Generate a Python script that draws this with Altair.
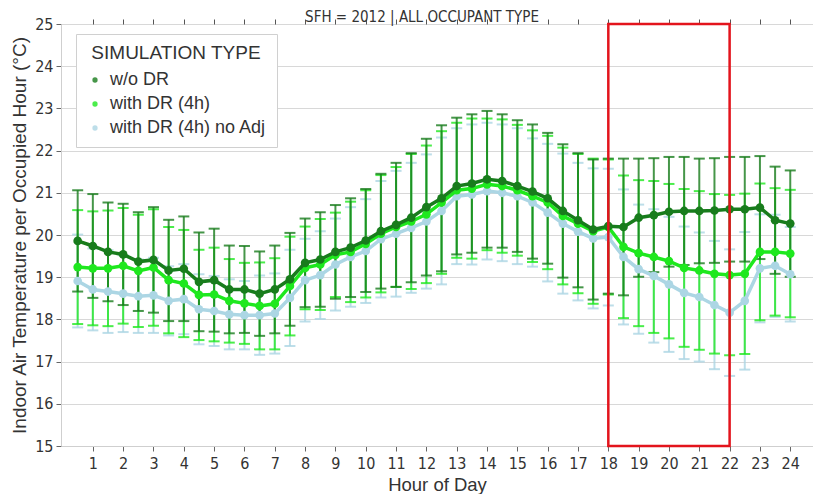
import altair as alt
import pandas as pd

hours = [0.5, 1, 1.5, 2, 2.5, 3, 3.5, 4, 4.5, 5, 5.5, 6, 6.5, 7, 7.5, 8,
         8.5, 9, 9.5, 10, 10.5, 11, 11.5, 12, 12.5, 13, 13.5, 14, 14.5, 15, 15.5, 16,
         16.5, 17, 17.5, 18, 18.5, 19, 19.5, 20, 20.5, 21, 21.5, 22, 22.5, 23, 23.5, 24]

series_names = ["w/o DR", "with DR (4h)", "with DR (4h) no Adj"]
series_colors = ["#187c1c", "#1ee81e", "#acd6e4"]

mean_wo_dr = [19.86, 19.74, 19.60, 19.54, 19.37, 19.41, 19.16, 19.20, 18.89, 18.93, 18.71, 18.71,
              18.61, 18.71, 18.95, 19.34, 19.42, 19.60, 19.70, 19.87, 20.09, 20.24, 20.41, 20.66,
              20.87, 21.16, 21.22, 21.32, 21.28, 21.16, 21.03, 20.87, 20.57, 20.35, 20.13, 20.21,
              20.19, 20.41, 20.47, 20.55, 20.57, 20.57, 20.58, 20.61, 20.61, 20.65, 20.35, 20.27]
std_wo_dr = [1.20, 1.23, 1.17, 1.20, 1.17, 1.25, 1.20, 1.24, 1.17, 1.22, 1.04, 1.03,
             1.00, 1.04, 1.10, 1.05, 1.12, 1.11, 1.17, 1.22, 1.36, 1.47, 1.53, 1.62,
             1.73, 1.62, 1.64, 1.62, 1.58, 1.56, 1.59, 1.55, 1.58, 1.59, 1.66, 1.60,
             1.62, 1.40, 1.35, 1.30, 1.28, 1.24, 1.24, 1.24, 1.24, 1.22, 1.27, 1.26]

mean_dr = [19.24, 19.21, 19.21, 19.27, 19.15, 19.23, 18.93, 18.85, 18.58, 18.59, 18.44, 18.38,
           18.32, 18.37, 18.79, 19.22, 19.30, 19.53, 19.60, 19.79, 20.03, 20.19, 20.32, 20.49,
           20.77, 21.06, 21.10, 21.20, 21.16, 21.06, 20.92, 20.77, 20.45, 20.27, 20.09, 20.19,
           19.72, 19.57, 19.48, 19.38, 19.22, 19.16, 19.08, 19.05, 19.08, 19.60, 19.60, 19.56]
std_dr = [1.35, 1.35, 1.37, 1.37, 1.33, 1.38, 1.26, 1.27, 1.07, 1.11, 0.99, 0.96,
          1.03, 1.08, 1.17, 0.98, 1.08, 1.00, 1.19, 1.27, 1.39, 1.42, 1.60, 1.63,
          1.69, 1.60, 1.66, 1.56, 1.58, 1.55, 1.56, 1.58, 1.62, 1.65, 1.72, 1.60,
          1.69, 1.73, 1.80, 1.83, 1.87, 1.88, 1.89, 1.90, 1.90, 1.62, 1.51, 1.51]

mean_noadj = [18.91, 18.71, 18.66, 18.61, 18.55, 18.57, 18.44, 18.48, 18.24, 18.20, 18.12, 18.10,
              18.10, 18.14, 18.51, 18.93, 19.05, 19.30, 19.48, 19.62, 19.90, 20.03, 20.17, 20.32,
              20.57, 20.92, 20.96, 21.04, 21.00, 20.92, 20.77, 20.53, 20.27, 20.08, 19.92, 19.95,
              19.48, 19.19, 19.03, 18.83, 18.63, 18.53, 18.34, 18.16, 18.44, 19.21, 19.27, 19.07]
std_noadj = [1.10, 0.97, 0.98, 0.91, 0.87, 0.89, 0.82, 0.83, 0.83, 0.83, 0.83, 0.81,
             0.94, 0.95, 1.14, 0.98, 1.04, 1.09, 1.18, 1.23, 1.38, 1.49, 1.54, 1.59,
             1.74, 1.61, 1.66, 1.62, 1.62, 1.61, 1.52, 1.63, 1.66, 1.63, 1.66, 1.62,
             1.60, 1.53, 1.58, 1.60, 1.57, 1.53, 1.52, 1.50, 1.63, 1.28, 1.21, 1.12]

dr_start, dr_end = 18, 22
y_min, y_max = 15, 25

rows = []
for name, means, stds in zip(series_names,
                             [mean_wo_dr, mean_dr, mean_noadj],
                             [std_wo_dr, std_dr, std_noadj]):
    for h, m, s in zip(hours, means, stds):
        rows.append({"hour": h, "series": name, "mean": m, "lo": m - s, "hi": m + s})
df = pd.DataFrame(rows)

narrow = "Liberation Sans Narrow, DejaVu Sans Condensed, Roboto Condensed, Liberation Sans, sans-serif"

xscale = alt.Scale(domain=[-0.05, 24.75], nice=False, zero=False)
yscale = alt.Scale(domain=[y_min, y_max], nice=False, zero=False)
cscale = alt.Scale(domain=series_names, range=series_colors)

x_axis = alt.Axis(values=list(range(1, 25)), title="Hour of Day", grid=False,
                  labelFont=narrow, labelFontSize=16, labelColor="#333", labelOverlap=False,
                  titleFont="Liberation Sans", titleFontSize=18.5, titleColor="#333",
                  titleFontWeight="normal", tickColor="#666", tickSize=5,
                  domainColor="#cfcfcf", labelPadding=4, titlePadding=4)
y_axis = alt.Axis(values=list(range(15, 26)), title="Indoor Air Temperature per Occupied Hour (°C)",
                  grid=True, gridColor="#d8d8d8", labelFont=narrow, labelFontSize=16,
                  labelColor="#333", titleFont="Liberation Sans", titleFontSize=19,
                  titleColor="#333", titleFontWeight="normal", tickColor="#666", tickSize=5,
                  domainColor="#cfcfcf", labelPadding=3, titlePadding=5)

legend = alt.Legend(title="SIMULATION TYPE", orient="none", legendX=15, legendY=10,
                    fillColor="white", strokeColor="#d0d0d0", padding=10,
                    symbolType="circle", symbolSize=28, symbolStrokeWidth=0,
                    titleFont="Liberation Sans", titleFontSize=19, titleFontWeight="normal",
                    titleColor="#333", titleAnchor="middle", labelFont="Liberation Sans",
                    labelFontSize=18, labelColor="#333", rowPadding=6, titlePadding=8,
                    labelOffset=6)

color_enc = alt.Color("series:N", scale=cscale, sort=series_names, legend=legend)

layers = []
first = True
draw_order = [2, 1, 0]
for i in draw_order:
    name = series_names[i]
    sub = alt.Chart(df).transform_filter(alt.datum.series == name)
    layers.append(sub.mark_rule(strokeWidth=2, opacity=0.8).encode(
        x=alt.X("hour:Q", scale=xscale, axis=x_axis if first else None),
        y=alt.Y("lo:Q", scale=yscale, axis=y_axis),
        y2="hi:Q",
        color=color_enc))
    first = False
    for fld in ["lo", "hi"]:
        layers.append(sub.mark_tick(orient="horizontal", size=11, thickness=2, opacity=0.8).encode(
            x=alt.X("hour:Q", scale=xscale, axis=None),
            y=alt.Y(f"{fld}:Q", scale=yscale, axis=y_axis),
            color=color_enc))
for i in draw_order:
    name = series_names[i]
    sub = alt.Chart(df).transform_filter(alt.datum.series == name)
    layers.append(sub.mark_line(strokeWidth=3.5).encode(
        x=alt.X("hour:Q", scale=xscale, axis=None),
        y=alt.Y("mean:Q", scale=yscale, axis=y_axis),
        color=color_enc))
    layers.append(sub.mark_circle(size=75, opacity=1).encode(
        x=alt.X("hour:Q", scale=xscale, axis=None),
        y=alt.Y("mean:Q", scale=yscale, axis=y_axis),
        color=color_enc))

rect_df = pd.DataFrame({"x": [dr_start], "x2": [dr_end], "y": [y_min], "y2": [y_max]})
rect = alt.Chart(rect_df).mark_rect(fillOpacity=0, stroke="#e3141c", strokeWidth=2.5).encode(
    x=alt.X("x:Q", scale=xscale,
            axis=alt.Axis(orient="top", values=list(range(1, 25)), labels=False, title=None,
                          grid=False, ticks=True, tickColor="#555", tickSize=5, tickWidth=1,
                          domain=False)),
    x2="x2:Q",
    y=alt.Y("y:Q", scale=yscale, axis=y_axis),
    y2="y2:Q")
layers.append(rect)

chart = alt.layer(*layers).resolve_axis(x="independent").properties(
    width=752, height=422,
    title=alt.TitleParams("SFH = 2012 | ALL OCCUPANT TYPE", font=narrow, fontSize=15,
                          fontWeight="normal", color="#333", anchor="middle", offset=-9, dx=-15),
    padding={"left": 2, "top": 2, "right": 0, "bottom": 0}
).configure_view(stroke=None)

chart.save("out.html", embed_options={"renderer": "svg", "actions": False})
